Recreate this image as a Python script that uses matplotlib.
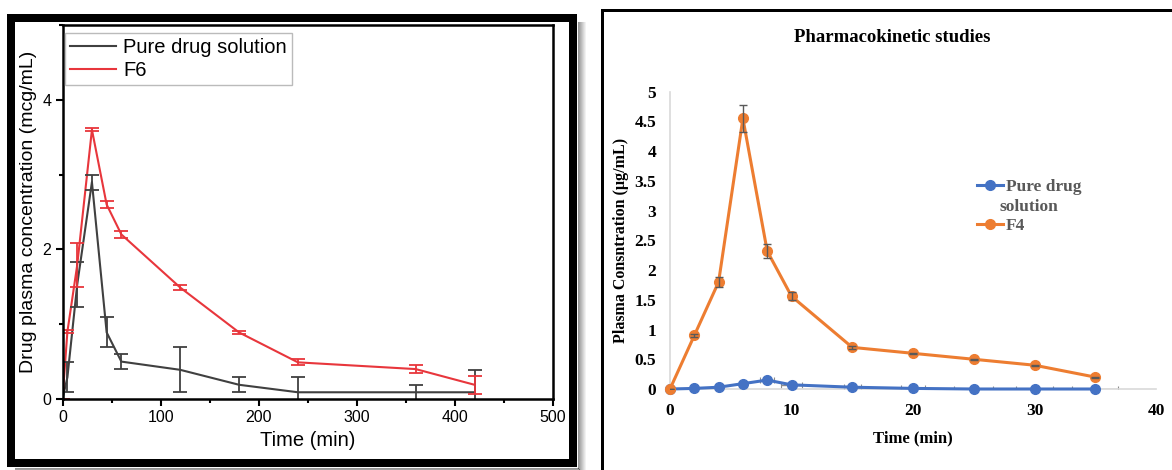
import matplotlib
matplotlib.use("Agg")
import matplotlib.pyplot as plt
from matplotlib.patches import Rectangle
from matplotlib.lines import Line2D
from matplotlib.ticker import MultipleLocator

#%% data - left panel (F6)
time_l = [0, 5, 15, 30, 45, 60, 120, 180, 240, 360, 420]
pure_l = [0, 0.29, 1.53, 2.9, 0.89, 0.5, 0.39, 0.19, 0.09, 0.09, 0.09]
pure_l_err = [0, 0.2, 0.3, 0.1, 0.2, 0.1, 0.3, 0.1, 0.2, 0.1, 0.3]
f6 = [0, 0.9, 1.79, 3.6, 2.6, 2.2, 1.49, 0.89, 0.49, 0.4, 0.19]
f6_err = [0, 0.02, 0.29, 0.02, 0.05, 0.05, 0.03, 0.02, 0.04, 0.05, 0.12]

#%% data - right panel (F4)
time_r = [0, 2, 4, 6, 8, 10, 15, 20, 25, 30, 35]
pure_r = [0, 0.01, 0.03, 0.09, 0.15, 0.07, 0.03, 0.01, 0.0, 0.0, 0.0]
pure_r_xerr = [0, 0, 0, 0.3, 0.6, 0.9, 0.7, 1.0, 1.6, 1.5, 1.9]
f4 = [0, 0.9, 1.8, 4.55, 2.32, 1.56, 0.7, 0.6, 0.5, 0.4, 0.2]
f4_err = [0, 0.03, 0.08, 0.22, 0.12, 0.07, 0.02, 0.01, 0.01, 0.01, 0.01]
yticks_r = [0, 0.5, 1, 1.5, 2, 2.5, 3, 3.5, 4, 4.5, 5]
ytick_labels_r = ["0", "0.5", "1", "1.5", "2", "2.5", "3", "3.5", "4", "4.5", "5"]
xticks_r = [0, 10, 20, 30, 40]

W, H = 1172, 470
fig = plt.figure(figsize=(W / 100, H / 100), dpi=100)
fig.patch.set_facecolor("white")


def px(x, y):
    # image pixel -> figure fraction
    return x / W, (H - y) / H


#%% left panel
sans = ["Liberation Sans", "DejaVu Sans"]
gray = "#404040"
red = "#e8363c"

ax1 = fig.add_axes([62.5 / W, (H - 399) / H, (553 - 62.5) / W, (399 - 25) / H])
ax1.plot(time_l, pure_l, color=gray, lw=1.5, label="Pure drug solution")
ax1.plot(time_l, f6, color=red, lw=1.5, label="F6")
ax1.errorbar(time_l, pure_l, yerr=pure_l_err, fmt="none", ecolor=gray, capsize=5,
             capthick=1.3, elinewidth=1.3)
ax1.errorbar(time_l, f6, yerr=f6_err, fmt="none", ecolor=red, capsize=5,
             capthick=1.3, elinewidth=1.3)
ax1.set_xlim(0, 500)
ax1.set_ylim(0, 5)
ax1.xaxis.set_major_locator(MultipleLocator(100))
ax1.xaxis.set_minor_locator(MultipleLocator(50))
ax1.yaxis.set_major_locator(MultipleLocator(2))
ax1.yaxis.set_minor_locator(MultipleLocator(1))
ax1.tick_params(which="major", direction="out", length=5, width=1.5, labelsize=11.5, pad=3)
ax1.tick_params(which="minor", direction="out", length=3, width=1.5)
for lab in ax1.get_xticklabels() + ax1.get_yticklabels():
    lab.set_family(sans)
for sp in ax1.spines.values():
    sp.set_linewidth(1.8)
ax1.set_xlabel("Time (min)", family=sans, fontsize=14.5, labelpad=4)
ax1.set_ylabel("Drug plasma concentration (mcg/mL)", family=sans, fontsize=14, labelpad=4)
leg = ax1.legend(loc="upper left", bbox_to_anchor=(0.005, 0.979), borderaxespad=0,
                 prop={"family": sans, "size": 14.5}, fancybox=False, edgecolor="#aaaaaa",
                 handlelength=2.3, handletextpad=0.35, labelspacing=0.2, borderpad=0.25)
leg.get_frame().set_linewidth(1.0)

# thick frame with soft shadow around left panel
for k in range(1, 9):
    a = 0.45 * (1 - k / 9)
    x0, y0 = px(577 + k - 0.5, 22)
    x1, y1 = px(577 + k - 0.5, 467 + k)
    fig.add_artist(Line2D([x0, x1], [y0, y1], color="black", alpha=a, lw=0.75))
    x0, y0 = px(15, 467 + k - 0.5)
    x1, y1 = px(577 + k, 467 + k - 0.5)
    fig.add_artist(Line2D([x0, x1], [y0, y1], color="black", alpha=a, lw=0.75))
fx, fy = px(11, 463)
fig.add_artist(Rectangle((fx, fy), 562 / W, 445 / H, fill=False, edgecolor="black",
                         lw=8 * 0.72, transform=fig.transFigure))

#%% right panel
serif = ["Liberation Serif", "DejaVu Serif"]
blue = "#4472c4"
orange = "#ed7d31"

ax2 = fig.add_axes([670 / W, (H - 389) / H, (1156 - 670) / W, (389 - 91.7) / H])
ax2.errorbar(time_r, pure_r, xerr=pure_r_xerr, fmt="none", ecolor="#8c8c8c",
             elinewidth=1.0, capsize=2.5, capthick=0.8, zorder=1)
ax2.plot(time_r, pure_r, color=blue, lw=2.2, marker="o", ms=7, label="Pure drug",
         clip_on=False, zorder=3)
ax2.plot(time_r, f4, color=orange, lw=2.2, marker="o", ms=7, label="F4",
         clip_on=False, zorder=4)
ax2.errorbar(time_r, f4, yerr=f4_err, fmt="none", ecolor="#595959",
             elinewidth=1.0, capsize=3, capthick=1.0, zorder=5)
ax2.set_xlim(0, 40)
ax2.set_ylim(0, 5)
ax2.set_xticks(xticks_r)
ax2.set_yticks(yticks_r)
ax2.set_yticklabels(ytick_labels_r)
ax2.tick_params(length=0, labelsize=12.5, pad=10)
for lab in ax2.get_xticklabels() + ax2.get_yticklabels():
    lab.set_family(serif)
    lab.set_fontweight("bold")
ax2.spines["top"].set_visible(False)
ax2.spines["right"].set_visible(False)
ax2.spines["left"].set_color("#d9d9d9")
ax2.spines["bottom"].set_color("#d9d9d9")
ax2.spines["left"].set_linewidth(1.2)
ax2.spines["bottom"].set_linewidth(1.2)
ax2.set_xlabel("Time (min)", family=serif, fontweight="bold", fontsize=12, labelpad=8)
ax2.set_ylabel("Plasma Consntration (\u00b5g/mL)", family=serif, fontweight="bold",
               fontsize=11.5, labelpad=4)

leg2 = ax2.legend(loc="upper left", bbox_to_anchor=((970 - 670) / 486, (389 - 172) / 297.3),
                  borderaxespad=0, frameon=False, handlelength=1.5, handletextpad=0.15,
                  labelspacing=1.3, prop={"family": serif, "weight": "bold", "size": 12.5})
for t in leg2.get_texts():
    t.set_color("#595959")
tx, ty = px(999, 207)
fig.text(tx, ty, "solution", family=serif, fontweight="bold", fontsize=12.5,
         color="#595959", va="center", ha="left")

tx, ty = px(892, 38)
fig.text(tx, ty, "Pharmacokinetic studies", family=serif, fontweight="bold",
         fontsize=13.5, ha="center", va="center")

# thin frame around right panel (runs off the image at right and bottom)
fx, fy = px(602, 10)
fig.add_artist(Rectangle((fx, -0.2), 0.7, fy + 0.2, fill=False, edgecolor="black",
                         lw=3 * 0.72, transform=fig.transFigure))

fig.savefig("out.png", dpi=100)
